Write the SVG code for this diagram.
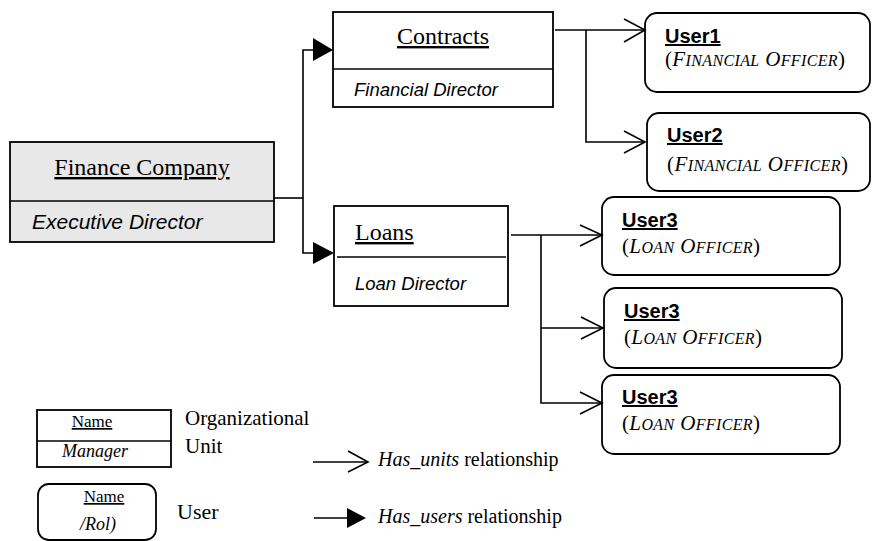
<svg xmlns="http://www.w3.org/2000/svg" width="874" height="541" viewBox="0 0 874 541">
<style>
.box{fill:#fff;stroke:#000;stroke-width:1.8}
.gbox{fill:#e8e8e8;stroke:#000;stroke-width:1.8}
.ln{fill:none;stroke:#000;stroke-width:1.6}
.open{fill:none;stroke:#000;stroke-width:1.6}
.fill{fill:#000;stroke:none}
.tn{font-family:"Liberation Serif","Times New Roman",serif;fill:#000}
.ar{font-family:"Liberation Sans",Arial,sans-serif;fill:#000}
.u{text-decoration:underline}
.it{font-style:italic}
.b{font-weight:bold}
.sc{font-size:16px}
</style>
<rect width="874" height="541" fill="#fff"/>
<g id="finance-company">
<rect class="gbox" x="10" y="142" width="264" height="100"/>
<line class="ln" x1="10" y1="201" x2="274" y2="201" stroke-width="1.8"/>
<text class="tn u" x="142" y="175" font-size="24" text-anchor="middle">Finance Company</text>
<text class="ar it" x="32" y="229" font-size="21">Executive Director</text>
</g>
<g id="contracts">
<rect class="box" x="333" y="12" width="220" height="95"/>
<line class="ln" x1="333" y1="69" x2="553" y2="69" stroke-width="1.8"/>
<text class="tn u" x="443" y="44" font-size="24" text-anchor="middle">Contracts</text>
<text class="ar it" x="354" y="96" font-size="18.5">Financial Director</text>
</g>
<g id="loans">
<rect class="box" x="334" y="206" width="174" height="100"/>
<line class="ln" x1="337" y1="257" x2="506" y2="257" stroke-width="1.8"/>
<text class="tn u" x="355" y="240" font-size="24">Loans</text>
<text class="ar it" x="355" y="290" font-size="18.5">Loan Director</text>
</g>
<g id="user1">
<rect class="box" x="645" y="13" width="225" height="79" rx="12"/>
<text class="ar b u" x="665" y="43" font-size="20">User1</text>
<text class="tn" x="665" y="66" font-size="21" textLength="180" lengthAdjust="spacing">(<tspan class="it">F<tspan class="sc">INANCIAL</tspan> O<tspan class="sc">FFICER</tspan></tspan>)</text>
</g>
<g id="user2">
<rect class="box" x="647" y="113" width="223" height="78" rx="12"/>
<text class="ar b u" x="667" y="142" font-size="20">User2</text>
<text class="tn" x="667" y="171" font-size="21" textLength="181" lengthAdjust="spacing">(<tspan class="it">F<tspan class="sc">INANCIAL</tspan> O<tspan class="sc">FFICER</tspan></tspan>)</text>
</g>
<g id="user3a">
<rect class="box" x="602" y="197" width="238" height="78" rx="12"/>
<text class="ar b u" x="622" y="227" font-size="20">User3</text>
<text class="tn" x="622" y="253" font-size="21" textLength="138" lengthAdjust="spacing">(<tspan class="it">L<tspan class="sc">OAN</tspan> O<tspan class="sc">FFICER</tspan></tspan>)</text>
</g>
<g id="user3b">
<rect class="box" x="604" y="288" width="238" height="80" rx="12"/>
<text class="ar b u" x="624" y="318" font-size="20">User3</text>
<text class="tn" x="624" y="344" font-size="21" textLength="138" lengthAdjust="spacing">(<tspan class="it">L<tspan class="sc">OAN</tspan> O<tspan class="sc">FFICER</tspan></tspan>)</text>
</g>
<g id="user3c">
<rect class="box" x="602" y="375" width="238" height="79" rx="12"/>
<text class="ar b u" x="622" y="404" font-size="20">User3</text>
<text class="tn" x="622" y="430" font-size="21" textLength="138" lengthAdjust="spacing">(<tspan class="it">L<tspan class="sc">OAN</tspan> O<tspan class="sc">FFICER</tspan></tspan>)</text>
</g>
<g id="connectors">
<polyline class="ln" points="274,198 303,198"/>
<polyline class="ln" points="313,50 303,50 303,253 313,253"/>
<polygon class="fill" points="313,38 333,50 313,61"/>
<polygon class="fill" points="313,242 334,253 313,264"/>
<polyline class="ln" points="555,30 645,30"/>
<polyline class="ln" points="586,30 586,142 645,142"/>
<polyline class="open" points="624,19 645,30 624,42"/>
<polyline class="open" points="624,131 645,142 624,153"/>
<polyline class="ln" points="511,235 602,235"/>
<polyline class="ln" points="541,235 541,403 602,403"/>
<polyline class="ln" points="541,328 603,328"/>
<polyline class="open" points="580,225 602,235 580,246"/>
<polyline class="open" points="581,317 603,328 581,339"/>
<polyline class="open" points="580,392 602,403 580,414"/>
</g>
<g id="legend-unit">
<rect class="box" x="37" y="410" width="134" height="57" stroke-width="1.6"/>
<line class="ln" x1="37" y1="441" x2="171" y2="441"/>
<text class="tn u" x="92" y="427" font-size="17" text-anchor="middle">Name</text>
<text class="tn it" x="95" y="457" font-size="18" text-anchor="middle">Manager</text>
<text class="tn" x="185" y="425" font-size="21">Organizational</text>
<text class="tn" x="185" y="453" font-size="21">Unit</text>
</g>
<g id="legend-user">
<rect class="box" x="38" y="484" width="118" height="56" rx="11" stroke-width="1.6"/>
<text class="tn u" x="104" y="502" font-size="17" text-anchor="middle">Name</text>
<text class="tn it" x="80" y="530" font-size="18">/Rol)</text>
<text class="tn" x="177" y="519" font-size="22">User</text>
</g>
<g id="legend-arrows">
<polyline class="ln" points="313,462 368,462"/>
<polyline class="open" points="348,451 368,462 348,472"/>
<text class="tn" x="378" y="466" font-size="20"><tspan class="it">Has_units</tspan> relationship</text>
<polyline class="ln" points="314,518 350,518"/>
<polygon class="fill" points="347,508 366,518 347,528"/>
<text class="tn" x="378" y="523" font-size="20"><tspan class="it">Has_users</tspan> relationship</text>
</g>
</svg>
